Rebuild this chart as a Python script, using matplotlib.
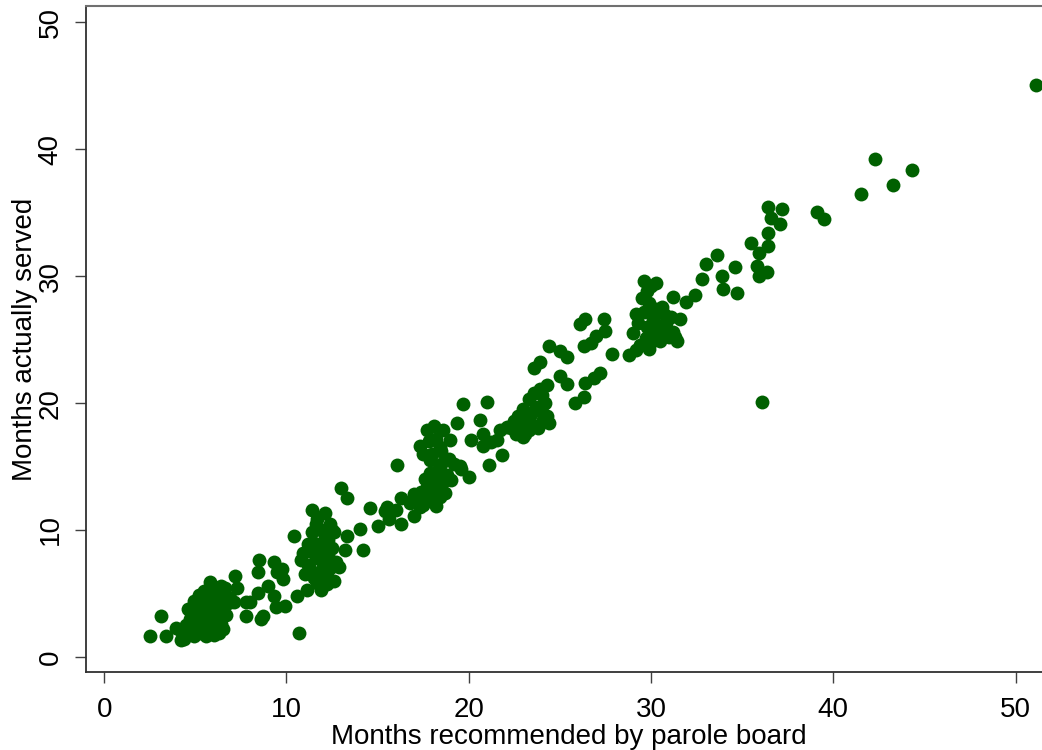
import numpy as np
import matplotlib
matplotlib.use("Agg")
from matplotlib import pyplot as plt

plt.rcParams['font.family'] = ['Liberation Sans', 'DejaVu Sans']

# months recommended by parole board / months actually served
rec_low = [2.5, 3.1, 3.4, 3.95, 4.2, 4.4, 4.9, 4.7, 4.5, 4.7, 4.8, 5.0, 5.0, 5.1, 5.2, 5.3, 5.3,
           5.4, 5.5, 5.5, 5.6, 5.7, 5.7, 5.8, 5.9, 5.9, 6.0, 6.0, 6.1, 6.2, 6.3, 6.4, 6.5,
           6.6, 6.7, 6.8, 6.2, 5.5, 4.6, 5.2, 6.0, 6.5, 5.8, 6.4, 7.2, 7.3, 7.1, 7.8, 7.8,
           8.0, 8.7, 8.5, 8.45, 8.45, 9.3, 9.5, 9.75, 9.8, 9.0, 9.3, 9.4, 9.9, 8.6, 10.6, 10.7,
           4.2, 4.6, 4.9, 5.0, 5.6, 6.3, 5.4, 6.1, 5.2, 4.9, 6.9, 6.6, 6.0, 5.7]
srv_low = [1.6, 3.2, 1.6, 2.3, 1.3, 1.4, 1.6, 3.7, 2.5, 3.0, 3.6, 2.2, 3.3, 4.0, 2.8, 3.5, 1.9,
           4.3, 3.0, 2.3, 3.8, 4.6, 2.6, 3.3, 1.9, 4.1, 2.9, 3.7, 2.2, 4.4, 3.2, 2.6, 3.8,
           4.9, 3.3, 4.2, 5.0, 5.2, 3.8, 4.9, 1.7, 2.2, 5.9, 5.6, 6.4, 5.4, 4.3, 4.3, 3.2,
           4.3, 3.2, 7.6, 6.7, 5.0, 7.5, 6.7, 6.9, 6.1, 5.6, 4.8, 3.9, 4.0, 3.0, 4.8, 1.9,
           2.0, 2.0, 2.6, 1.8, 1.6, 1.9, 2.6, 3.3, 3.9, 4.4, 4.6, 5.4, 5.5, 5.0]

rec_mid = [10.4, 11.1, 10.8, 11.0, 11.2, 11.3, 11.4, 11.5, 11.5, 11.6, 11.7, 11.8, 11.9, 11.9,
           12.0, 12.1, 12.1, 12.2, 12.3, 12.4, 12.4, 12.5, 12.6, 12.7, 12.2, 11.6, 12.0, 11.3,
           12.9, 13.2, 13.3, 13.0, 13.3, 14.05, 14.2, 14.6, 15.0, 15.4, 15.5, 16.06, 16.3,
           16.3, 16.8, 16.97, 15.6, 16.0,
           10.9, 11.4, 11.7, 12.3, 12.6, 11.9, 12.5, 11.2,
           17.2, 17.4, 17.5, 17.6, 17.7, 17.8, 17.9, 17.9, 18.0, 18.0, 18.1, 18.2, 18.3, 18.3,
           18.4, 18.5, 18.6, 18.7, 18.8, 19.0, 17.3, 17.7, 18.07, 18.6, 18.99, 18.2, 17.5, 18.4,
           19.36, 19.7, 20.0, 20.1, 20.6, 21.0, 20.8, 20.8, 21.1, 21.2, 21.7, 21.8, 21.55,
           19.5, 19.2, 19.6, 17.0, 17.3, 18.2, 18.9, 17.8, 18.5]
srv_mid = [9.5, 5.3, 7.6, 6.5, 7.2, 8.3, 11.6, 9.0, 6.2, 7.8, 5.8, 8.8, 10.0, 6.8,
           7.4, 11.3, 9.4, 6.4, 8.0, 10.5, 7.0, 8.6, 9.8, 7.5, 5.7, 10.5, 8.2, 6.9,
           7.1, 8.4, 9.5, 13.3, 12.5, 10.1, 8.4, 11.7, 10.3, 11.5, 11.8, 15.1, 12.5,
           10.5, 12.1, 11.1, 10.9, 11.6,
           8.2, 9.8, 10.9, 9.2, 6.0, 5.3, 10.0, 8.9,
           12.3, 13.0, 12.0, 14.0, 13.4, 12.5, 15.5, 14.5, 13.0, 16.0, 12.2, 14.0, 14.7, 13.5,
           12.6, 15.2, 13.8, 12.9, 14.3, 13.96, 16.6, 17.9, 18.2, 17.9, 17.1, 17.2, 16.0, 16.5,
           18.4, 19.9, 14.2, 17.1, 18.7, 20.1, 17.6, 16.6, 15.1, 16.9, 17.9, 15.9, 17.1,
           15.0, 15.2, 14.8, 12.8, 11.8, 11.9, 15.6, 17.0, 16.2]

rec_high = [22.3, 22.5, 22.7, 22.9, 23.0, 23.1, 23.2, 23.3, 23.4, 23.5, 23.6, 23.7, 23.8, 23.9,
            24.0, 24.1, 24.2, 24.3, 24.4, 23.0, 23.6, 23.9, 24.4, 25.0, 25.4, 25.0, 25.4, 25.85,
            26.3, 26.4, 26.86, 27.2, 26.3, 26.7, 27.0, 27.5, 26.1, 26.4, 27.4, 27.86, 28.8, 29.2,
            29.0, 29.3, 29.4, 29.6, 29.7, 29.8, 29.9, 30.0, 30.1, 30.2, 30.3, 30.4, 30.5, 30.6,
            30.7, 30.8, 31.0, 31.1, 31.2, 29.5, 29.8, 31.4, 31.6, 30.0, 29.6, 30.3, 31.2, 31.9,
            32.4, 32.8, 33.0, 33.6, 33.9, 33.95, 34.6, 34.7, 35.8, 35.9, 36.35, 35.5, 35.9, 36.4,
            36.4, 37.1, 36.6, 36.4, 37.2, 39.1, 39.5, 41.5, 43.25, 44.3, 42.3, 51.1, 36.1,
            22.6, 23.3, 24.0, 24.3, 22.1, 29.2, 30.6, 31.3, 29.9]
srv_high = [18.0, 18.6, 19.0, 18.2, 19.5, 17.6, 18.8, 20.3, 19.1, 18.3, 20.8, 19.7, 18.0, 21.1,
            19.3, 18.7, 20.0, 19.0, 18.4, 17.3, 22.8, 23.2, 24.5, 24.1, 23.6, 22.1, 21.5, 20.0,
            20.5, 21.6, 22.0, 22.4, 24.5, 24.7, 25.3, 25.7, 26.2, 26.6, 26.6, 23.9, 23.8, 24.2,
            25.5, 26.3, 24.6, 27.2, 25.1, 26.0, 27.9, 24.8, 26.6, 25.4, 27.4, 26.1, 24.9, 25.8,
            27.0, 26.3, 25.2, 26.8, 25.6, 28.3, 28.8, 24.9, 26.6, 29.2, 29.6, 29.5, 28.4, 28.0,
            28.5, 29.8, 31.0, 31.7, 30.0, 29.0, 30.7, 28.7, 30.8, 30.0, 30.3, 32.6, 31.8, 32.4,
            33.4, 34.1, 34.6, 35.45, 35.3, 35.1, 34.5, 36.5, 37.2, 38.4, 39.25, 45.1, 20.1,
            17.6, 17.9, 20.6, 21.4, 18.1, 27.0, 27.6, 25.2, 24.3]

x = rec_low + rec_mid + rec_high
y = srv_low + srv_mid + srv_high

fig = plt.figure(figsize=(10.42, 7.5), dpi=100)
ax = fig.add_axes([86 / 1042, 78 / 750, 966 / 1042, 666 / 750])
ax.scatter(x, y, s=100, color='#006000', linewidths=0, zorder=3)

ax.set_xlim(-1, 52)
ax.set_ylim(-1.2, 51.3)
ax.set_xticks([0, 10, 20, 30, 40, 50])
ax.set_yticks([0, 10, 20, 30, 40, 50])
ax.tick_params(axis='both', labelsize=20, length=8, width=1, color='#404040', pad=8)
ax.tick_params(axis='x', pad=10)
for lab in ax.get_yticklabels():
    lab.set_rotation(90)
    lab.set_va('center')
ax.spines['right'].set_visible(False)
ax.spines['top'].set_color('#707070')
ax.spines['top'].set_linewidth(1.5)
for s in ['left', 'bottom']:
    ax.spines[s].set_color('#303030')
    ax.spines[s].set_linewidth(1.3)

ax.set_xlabel('Months recommended by parole board', fontsize=20, labelpad=1)
ax.set_ylabel('Months actually served', fontsize=20, labelpad=0)

plt.savefig('out.png', dpi=100)
